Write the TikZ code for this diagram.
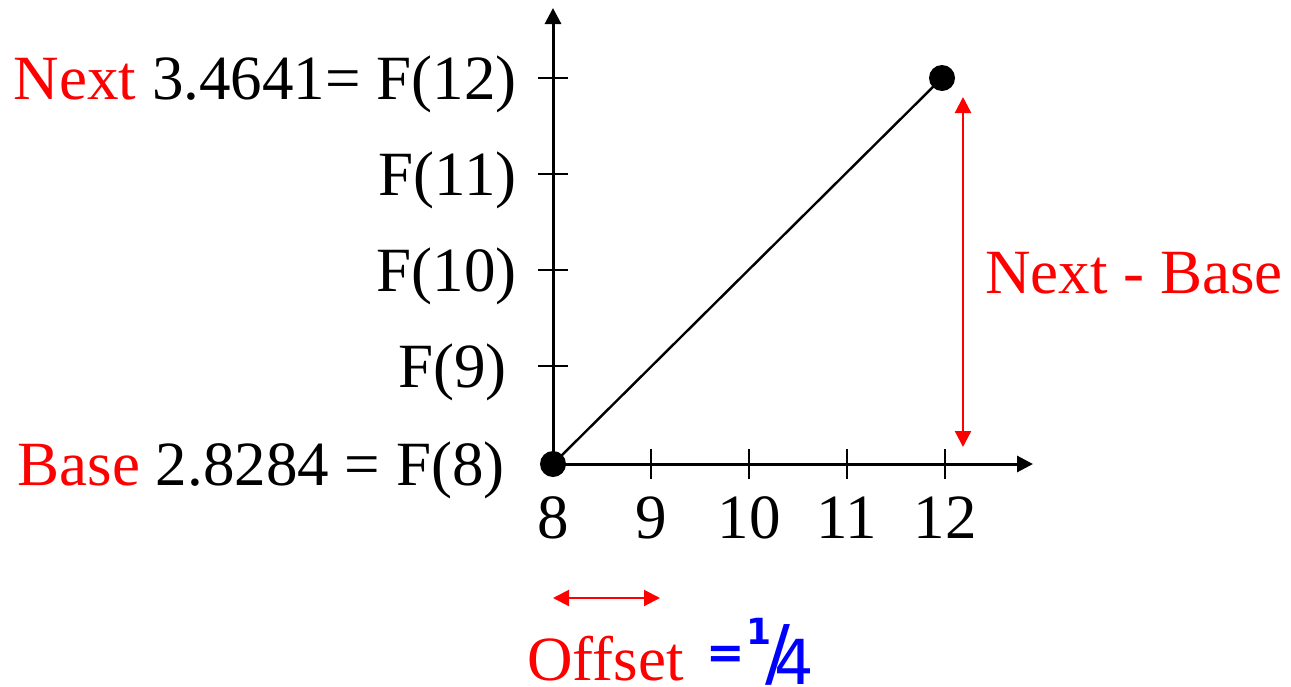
\documentclass[tikz,border=0pt]{standalone}
\usepackage{fontspec}
\setmainfont{Liberation Serif}
\newfontfamily\handfont{DejaVu Sans}
\usepackage{xcolor}
\usetikzlibrary{arrows.meta}

\begin{document}
\begin{tikzpicture}[x=0.5pt,y=-0.5pt,
    axis/.style={line width=1.5pt,-{Triangle[length=8pt,width=8pt]}},
    axtick/.style={line width=1.2pt},
    dot/.style={circle,fill=black,inner sep=0pt,minimum size=13pt},
    gap/.style={red,line width=1.2pt,{Triangle[length=8pt,width=8pt]}-{Triangle[length=8pt,width=8pt]}},
    lbl/.style={font=\fontsize{31.5}{36}\selectfont,inner sep=0pt}]

        \useasboundingbox (0,0) rectangle (1291,686);

        % Axes
        \coordinate (O) at (553,464);
        \coordinate (ytop) at (553,8);
        \coordinate (xend) at (1033,464);
        \draw[axis] (O) -- (ytop);
        \draw[axis] (O) -- (xend);

        % Ticks on the y axis
        \foreach \y in {78,174,270,366}
            \draw[axtick] (538,\y) -- (568,\y);

        % Ticks and numbers on the x axis
        \node[lbl,anchor=base] (x8) at (553,538) {8};
        \foreach \x/\k in {651/9,749/10,847/11,945/12} {
            \draw[axtick] (\x,449) -- (\x,479);
            \node[lbl,anchor=base] (x\k) at (\x,538) {\k};
        }

        % Points
        \node[dot] (base) at (O) {};
        \node[dot] (next) at (942,78) {};
        \draw[line width=1.2pt] (base.center) -- (next.center);

        % Labels on the y axis
        \node[lbl,anchor=base east] (f12) at (517,99) {\textcolor{red}{Next} 3.4641= F(12)};
        \node[lbl,anchor=base east] (f11) at (517,195) {F(11)};
        \node[lbl,anchor=base east] (f10) at (517,291) {F(10)};
        \node[lbl,anchor=base east] (f9) at (507,387) {F(9)};
        \node[lbl,anchor=base east] (f8) at (505,485) {\textcolor{red}{Base} 2.8284 = F(8)};

        % Next - Base
        \coordinate (na) at (963,97);
        \coordinate (nb) at (963,447);
        \draw[gap] (na) -- (nb);
        \node[lbl,anchor=base west,red] (diff) at (985,293) {Next - Base};

        % Offset
        \coordinate (oa) at (553,598);
        \coordinate (ob) at (660,598);
        \draw[gap,line width=1pt] (oa) -- (ob);
        \node[lbl,anchor=base west,red,text depth=0pt] (offset) at (527,680) {Offset};
        \node[anchor=base west,inner sep=0pt,blue,text depth=0pt] (quarter) at (706,668)
            {\handfont{\bfseries\fontsize{23}{24}\selectfont =}\kern1pt\raisebox{12pt}{\bfseries\fontsize{18}{18}\selectfont 1}\kern-3pt\raisebox{-5pt}{\fontsize{37}{38}\selectfont /}\kern-8pt\raisebox{-8pt}{\fontsize{31}{32}\selectfont 4}};

    \end{tikzpicture}
\end{document}
